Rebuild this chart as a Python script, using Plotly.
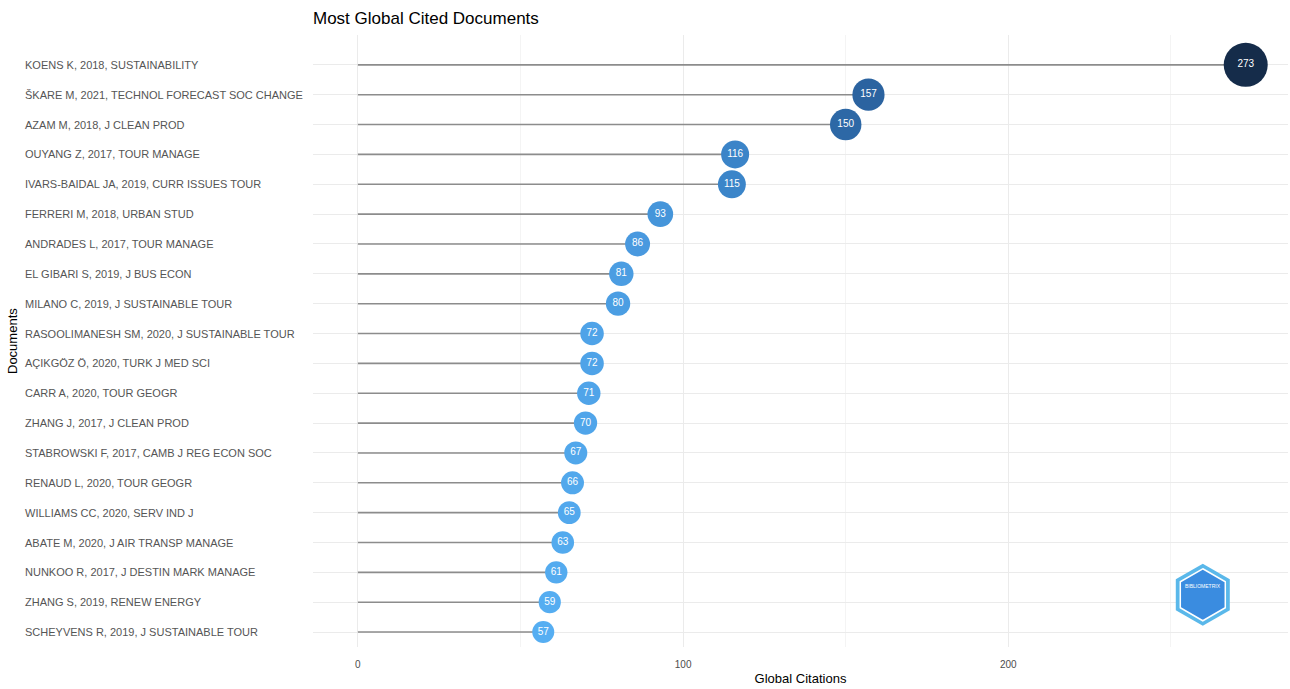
import numpy as np
import plotly.graph_objects as go

documents = [
    "KOENS K, 2018, SUSTAINABILITY",
    "ŠKARE M, 2021, TECHNOL FORECAST SOC CHANGE",
    "AZAM M, 2018, J CLEAN PROD",
    "OUYANG Z, 2017, TOUR MANAGE",
    "IVARS-BAIDAL JA, 2019, CURR ISSUES TOUR",
    "FERRERI M, 2018, URBAN STUD",
    "ANDRADES L, 2017, TOUR MANAGE",
    "EL GIBARI S, 2019, J BUS ECON",
    "MILANO C, 2019, J SUSTAINABLE TOUR",
    "RASOOLIMANESH SM, 2020, J SUSTAINABLE TOUR",
    "AÇIKGÖZ Ö, 2020, TURK J MED SCI",
    "CARR A, 2020, TOUR GEOGR",
    "ZHANG J, 2017, J CLEAN PROD",
    "STABROWSKI F, 2017, CAMB J REG ECON SOC",
    "RENAUD L, 2020, TOUR GEOGR",
    "WILLIAMS CC, 2020, SERV IND J",
    "ABATE M, 2020, J AIR TRANSP MANAGE",
    "NUNKOO R, 2017, J DESTIN MARK MANAGE",
    "ZHANG S, 2019, RENEW ENERGY",
    "SCHEYVENS R, 2019, J SUSTAINABLE TOUR",
]
citations = [273, 157, 150, 116, 115, 93, 86, 81, 80, 72, 72, 71, 70, 67, 66, 65, 63, 61, 59, 57]
x_ticks = [0, 100, 200]

vals = np.array(citations, dtype=float)
sizes = 22 + (vals - vals.min()) * (44 - 22) / (vals.max() - vals.min())

fig = go.Figure()

# segments
lx, ly = [], []
for d, v in zip(documents, citations):
    lx += [0, v, None]
    ly += [d, d, None]
fig.add_trace(go.Scatter(x=lx, y=ly, mode="lines",
                         line=dict(color="#8c8c8c", width=1.6),
                         hoverinfo="skip", showlegend=False))

fig.add_trace(go.Scatter(
    x=citations, y=documents, mode="markers+text",
    marker=dict(size=sizes, sizemode="diameter", color=citations,
                colorscale=[[0, "#56aef2"], [0.17, "#4594da"], [0.27, "#3b85c9"],
                            [0.46, "#2b63a0"], [1, "#152c4a"]],
                cmin=min(citations), cmax=max(citations), line=dict(width=0),
                opacity=1),
    text=[str(c) for c in citations], textposition="middle center",
    textfont=dict(color="white", size=10, family="Liberation Sans, Arial"),
    showlegend=False, hoverinfo="x+y"))

L, R, T, B = 313, 2, 35, 42
W, H = 1290, 689
pw = W - L - R

# left-aligned category labels
for d in documents:
    fig.add_annotation(x=(23 - L) / pw, xref="paper", y=d, yref="y",
                       text=d, showarrow=False, xanchor="left",
                       font=dict(size=11, color="#555555", family="Liberation Sans, Arial"))

fig.add_annotation(x=(12 - L) / pw, xref="paper", y=0.5, yref="paper",
                   text="Documents", textangle=-90, showarrow=False,
                   xanchor="center", yanchor="middle",
                   font=dict(size=13, color="black", family="Liberation Sans, Arial"))

# logo (decorative hexagon)
hexo = "M 0 31 L 27 15.5 L 27 -15.5 L 0 -31 L -27 -15.5 L -27 15.5 Z"
hexi = "M 0 26 L 22.5 13 L 22.5 -13 L 0 -26 L -22.5 -13 L -22.5 13 Z"
fig.add_shape(type="path", path=hexo, xref="x", yref="y", xsizemode="pixel",
              ysizemode="pixel", xanchor=259.8, yanchor=17.75,
              fillcolor="#5ab8ea", line=dict(width=0))
fig.add_shape(type="path", path=hexi, xref="x", yref="y", xsizemode="pixel",
              ysizemode="pixel", xanchor=259.8, yanchor=17.75,
              fillcolor="#3a8ce0", line=dict(color="white", width=1.5))
fig.add_annotation(x=259.8, y=17.45, xref="x", yref="y", text="BIBLIOMETRIX",
                   showarrow=False, font=dict(size=5, color="white", family="Liberation Sans"))

fig.update_layout(
    width=W, height=H,
    margin=dict(l=L, r=R, t=T, b=B, autoexpand=False),
    paper_bgcolor="white", plot_bgcolor="white",
    title=dict(text="Most Global Cited Documents", x=L / W, xanchor="left",
               y=1 - 18 / H, yanchor="middle",
               font=dict(size=17, color="black", family="Liberation Sans, Arial")),
    xaxis=dict(range=[-13.8, 286], tickvals=x_ticks, showgrid=True,
               gridcolor="#ebebeb", gridwidth=1, zeroline=False, showline=False,
               ticks="outside", ticklen=8, tickcolor="rgba(0,0,0,0)",
               tickfont=dict(size=10, color="#4d4d4d", family="Liberation Sans, Arial"),
               minor=dict(tickvals=[50, 150, 250], showgrid=True, gridcolor="#f4f4f4", gridwidth=1),
               title=dict(text="Global Citations", standoff=4,
                          font=dict(size=13, color="black", family="Liberation Sans, Arial"))),
    yaxis=dict(type="category", categoryorder="array", categoryarray=documents,
               range=[19.5, -1.0], showticklabels=False, showgrid=True,
               gridcolor="#ebebeb", gridwidth=1, zeroline=False, ticks=""),
)

fig.write_html("out.html", config={"displayModeBar": False},
               post_script="document.body.style.margin='0';document.body.style.overflow='hidden';")
